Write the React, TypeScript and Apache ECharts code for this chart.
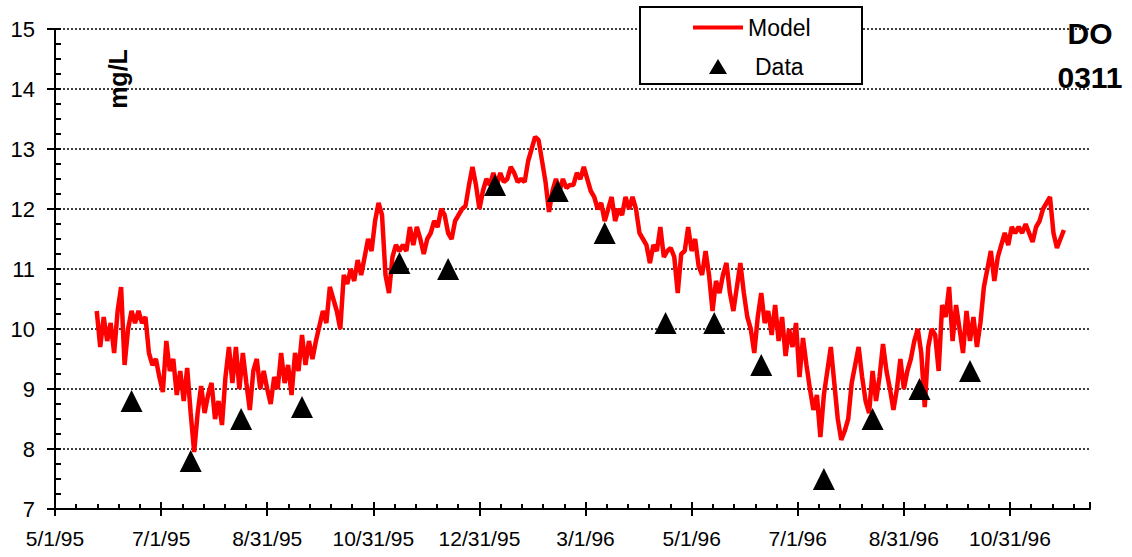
import React, { useEffect, useRef } from "react";
import * as echarts from "echarts";

// x axis is measured in days since 5/1/95
const BASE_DATE_UTC = Date.UTC(1995, 4, 1);
const xMinDay = 0;
const xMaxDay = 595;
const xTickDays = 61;

const yMin = 7;
const yMax = 15;
const yStep = 1;

// Model: daily-ish model output, every 2 days from day 24 (5/25/95)
const modelStartDay = 24;
const modelStepDays = 2;
const modelValues = [
  // day 24 - 170
  10.3, 9.7, 10.2, 9.8, 10.1, 9.6, 10.3, 10.7, 9.4, 10.0,
  10.3, 10.1, 10.3, 10.1, 10.2, 9.6, 9.4, 9.5, 9.2, 8.95,
  9.8, 9.3, 9.5, 8.9, 9.3, 8.8, 9.35, 8.6, 7.95, 8.6,
  9.05, 8.6, 8.9, 9.1, 8.5, 8.8, 8.4, 9.2, 9.7, 9.1,
  9.7, 9.0, 9.6, 9.1, 8.65, 9.3, 9.5, 9.0, 9.3, 9.0,
  8.75, 9.2, 9.0, 9.6, 9.1, 9.4, 8.9, 9.6, 9.3, 9.9,
  9.4, 9.8, 9.5, 9.8, 10.05, 10.3, 10.1, 10.7, 10.5, 10.3,
  10.0, 10.9, 10.75, 11.0,
  // day 172 - 312
  10.8, 11.15, 10.9, 11.2, 11.5, 11.3, 11.8, 12.1, 11.9, 10.9,
  10.6, 11.2, 11.4, 11.3, 11.4, 11.3, 11.7, 11.4, 11.7, 11.5,
  11.25, 11.5, 11.6, 11.8, 11.7, 12.0, 11.9, 11.6, 11.5, 11.8,
  11.9, 12.0, 12.05, 12.4, 12.7, 12.4, 12.0, 12.3, 12.5, 12.4,
  12.6, 12.4, 12.6, 12.45, 12.5, 12.7, 12.6, 12.45, 12.5, 12.45,
  12.8, 13.0, 13.2, 13.15, 12.8, 12.45, 11.95, 12.3, 12.5, 12.3,
  12.5, 12.35, 12.4, 12.4, 12.6, 12.5, 12.7, 12.5, 12.3, 12.2,
  12.0,
  // day 314 - 454
  12.1, 11.8, 12.0, 12.2, 11.8, 12.0, 11.9, 12.2, 12.0, 12.2,
  12.0, 11.6, 11.5, 11.4, 11.1, 11.4, 11.3, 11.7, 11.2, 11.3,
  11.35, 11.2, 10.6, 11.25, 11.3, 11.7, 11.3, 11.5, 11.05, 10.9,
  11.3, 10.9, 10.3, 10.8, 10.6, 10.9, 11.1, 10.6, 10.3, 10.7,
  11.1, 10.6, 10.2, 10.0, 9.6, 10.2, 10.6, 10.1, 10.3, 9.9,
  10.4, 9.8, 10.2, 9.55, 10.0, 9.7, 10.1, 9.2, 9.85, 9.4,
  9.0, 8.65, 8.9, 8.2, 8.9, 9.3, 9.7, 9.1, 8.5, 8.15,
  8.3,
  // day 456 - 580
  8.5, 9.1, 9.4, 9.7, 9.2, 8.8, 8.6, 9.3, 8.8, 9.2,
  9.75, 9.3, 9.0, 8.65, 9.0, 9.5, 9.0, 9.3, 9.5, 9.8,
  10.0, 9.6, 8.7, 9.7, 10.0, 9.9, 9.3, 10.4, 10.2, 10.7,
  9.8, 10.4, 10.0, 9.6, 10.3, 9.8, 10.2, 9.7, 10.1, 10.7,
  11.0, 11.3, 10.8, 11.2, 11.4, 11.6, 11.4, 11.7, 11.6, 11.7,
  11.6, 11.75, 11.6, 11.45, 11.7, 11.8, 12.0, 12.1, 12.2, 11.6,
  11.35, 11.5, 11.65,
];

// Data: measured values (days since 5/1/95)
const dataDays = [44, 78, 107, 142, 198, 226, 253, 289, 316, 351, 379, 406, 442, 470, 497, 526];
const dataValues = [8.8, 7.8, 8.5, 8.7, 11.1, 11.0, 12.4, 12.3, 11.6, 10.1, 10.1, 9.4, 7.5, 8.5, 9.0, 9.3];

const FONT = 'Arial, "Liberation Sans", Helvetica, sans-serif';

function dayLabel(v: number): string {
  if (Math.abs(v % xTickDays) > 1e-6) return "";
  const d = new Date(BASE_DATE_UTC + v * 86400000);
  return `${d.getUTCMonth() + 1}/${d.getUTCDate()}/${String(d.getUTCFullYear()).slice(2)}`;
}

export default function App() {
  const ref = useRef<HTMLDivElement>(null);

  useEffect(() => {
    document.body.style.margin = "0";
    if (!ref.current) return;
    const chart = echarts.init(ref.current, undefined, { renderer: "svg" });

    const modelData = modelValues.map((v, i) => [modelStartDay + i * modelStepDays, v]);
    const pointData = dataDays.map((d, i) => [d, dataValues[i]]);
    const black = "#000";

    chart.setOption({
      animation: false,
      backgroundColor: "#fff",
      title: {
        text: "DO\n0311",
        left: 1090,
        top: 11,
        padding: 0,
        textAlign: "center",
        textStyle: { fontFamily: FONT, fontSize: 30, fontWeight: "bold", color: black, lineHeight: 44 },
      },
      grid: { left: 55, right: 42, top: 29, bottom: 48 },
      legend: [
        {
          data: [{ name: "Model", icon: "rect" }],
          left: 693,
          top: 16,
          padding: 0,
          itemWidth: 50,
          itemHeight: 4,
          selectedMode: false,
          z: 10,
          textStyle: { fontFamily: FONT, fontSize: 23, color: black },
        },
        {
          data: [{ name: "Data", icon: "triangle" }],
          left: 709,
          top: 55,
          padding: 0,
          itemWidth: 18,
          itemHeight: 15,
          selectedMode: false,
          z: 10,
          formatter: "{p|{name}}",
          textStyle: {
            fontFamily: FONT,
            fontSize: 23,
            color: black,
            rich: { p: { padding: [0, 0, 0, 23], fontFamily: FONT, fontSize: 23, color: black } },
          },
        },
      ],
      graphic: [
        {
          type: "rect",
          z: 5,
          shape: { x: 640, y: 7, width: 222, height: 77 },
          style: { fill: "#fff", stroke: black, lineWidth: 2 },
        },
        {
          type: "text",
          z: 5,
          x: 118,
          y: 79,
          rotation: Math.PI / 2,
          style: {
            text: "mg/L",
            fontFamily: FONT,
            fontSize: 25,
            fontWeight: "bold",
            fill: black,
            align: "center",
            verticalAlign: "middle",
          },
        },
      ],
      xAxis: [
        {
          type: "value",
          position: "bottom",
          min: xMinDay,
          max: xMaxDay,
          interval: xTickDays,
          axisLine: { show: true, onZero: false, lineStyle: { color: black, width: 2 } },
          axisTick: { show: true, inside: false, length: 7, lineStyle: { color: black, width: 2 } },
          axisLabel: {
            formatter: dayLabel,
            margin: 19,
            fontFamily: FONT,
            fontSize: 21,
            color: black,
            showMaxLabel: false,
          },
          splitLine: { show: false },
        },
        {
          type: "value",
          position: "bottom",
          min: xMinDay,
          max: xMaxDay,
          interval: xTickDays,
          axisLine: { show: false, onZero: false },
          axisTick: { show: true, inside: true, length: 7, lineStyle: { color: black, width: 2 } },
          minorTick: { show: true, splitNumber: 5, length: 5, lineStyle: { color: black, width: 2 } },
          axisLabel: { show: false },
          splitLine: { show: false },
        },
      ],
      yAxis: [
        {
          type: "value",
          position: "left",
          min: yMin,
          max: yMax,
          interval: yStep,
          axisLine: { show: true, onZero: false, lineStyle: { color: black, width: 2 } },
          axisTick: { show: true, inside: false, length: 8, lineStyle: { color: black, width: 2 } },
          axisLabel: { margin: 20, fontFamily: FONT, fontSize: 22, color: black },
          splitLine: { show: true, lineStyle: { color: black, width: 1.5, type: [2, 2] } },
        },
        {
          type: "value",
          position: "left",
          min: yMin,
          max: yMax,
          interval: yStep,
          axisLine: { show: false, onZero: false },
          axisTick: { show: true, inside: true, length: 6, lineStyle: { color: black, width: 2 } },
          minorTick: { show: true, splitNumber: 4, length: 6, lineStyle: { color: black, width: 2 } },
          axisLabel: { show: false },
          splitLine: { show: false },
        },
      ],
      series: [
        {
          name: "Model",
          type: "line",
          xAxisIndex: 0,
          yAxisIndex: 0,
          data: modelData,
          showSymbol: false,
          symbol: "none",
          lineStyle: { color: "#ff0000", width: 4.5 },
          itemStyle: { color: "#ff0000" },
          z: 2,
        },
        {
          name: "Data",
          type: "scatter",
          xAxisIndex: 0,
          yAxisIndex: 0,
          data: pointData,
          symbol: "triangle",
          symbolSize: 22,
          itemStyle: { color: black, opacity: 1 },
          z: 3,
        },
      ],
    });

    return () => chart.dispose();
  }, []);

  return <div ref={ref} style={{ width: 1132, height: 557 }} />;
}
